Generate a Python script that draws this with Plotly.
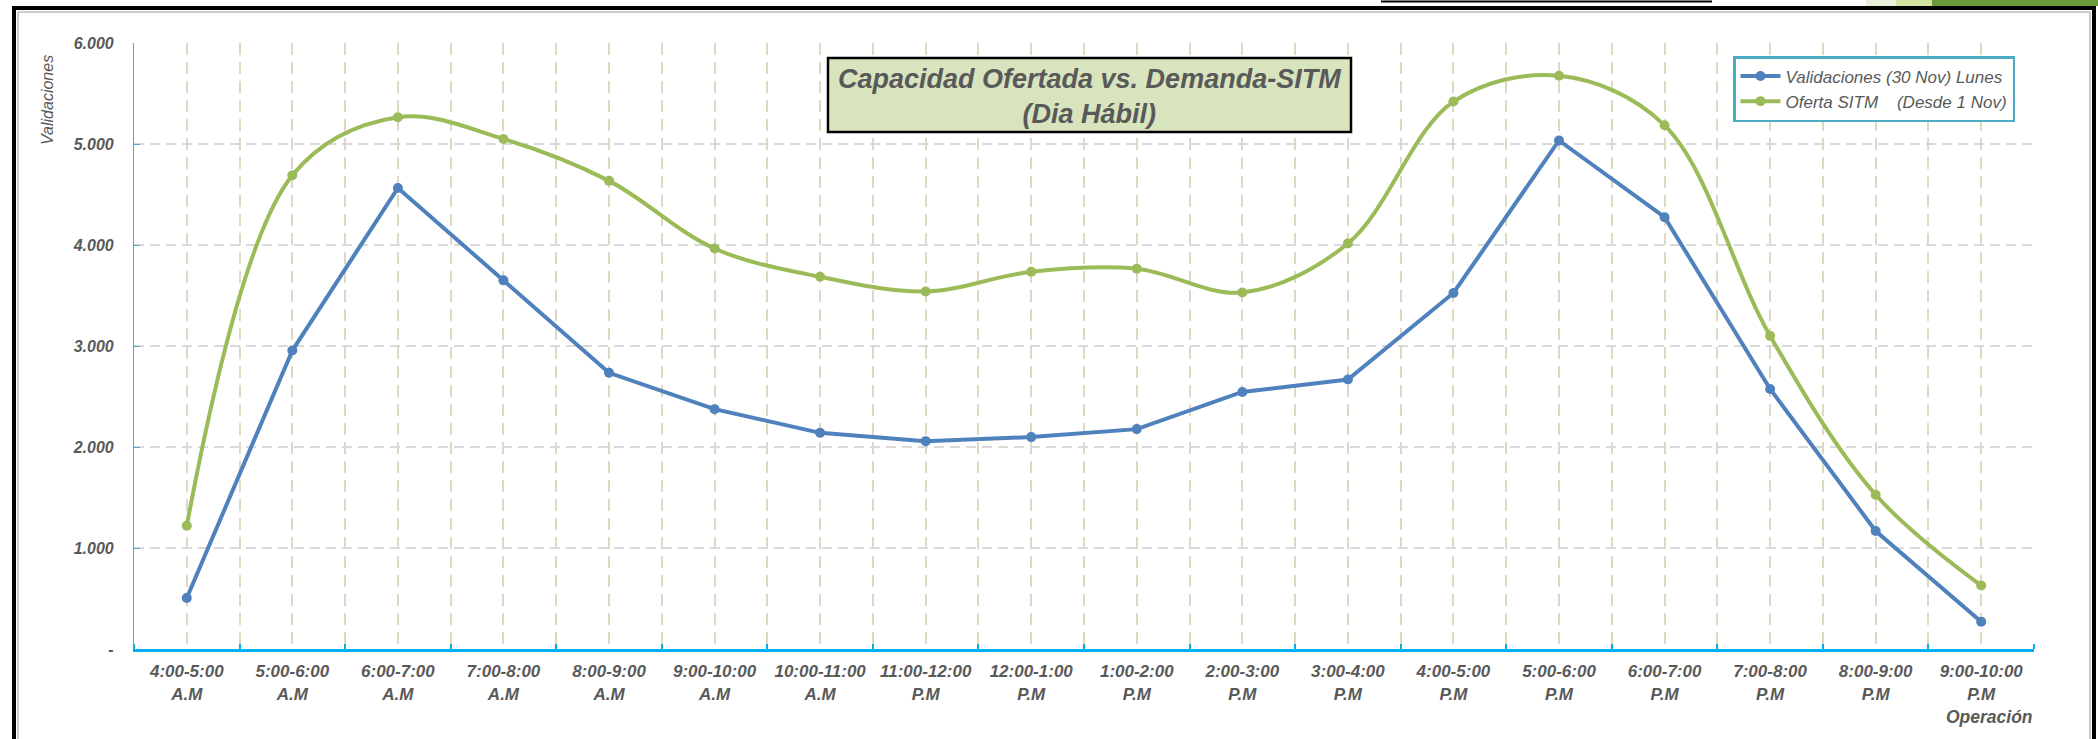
import plotly.graph_objects as go

# ---------------- data ----------------
categories = ["4:00-5:00<br>A.M", "5:00-6:00<br>A.M", "6:00-7:00<br>A.M", "7:00-8:00<br>A.M",
              "8:00-9:00<br>A.M", "9:00-10:00<br>A.M", "10:00-11:00<br>A.M", "11:00-12:00<br>P.M",
              "12:00-1:00<br>P.M", "1:00-2:00<br>P.M", "2:00-3:00<br>P.M", "3:00-4:00<br>P.M",
              "4:00-5:00<br>P.M", "5:00-6:00<br>P.M", "6:00-7:00<br>P.M", "7:00-8:00<br>P.M",
              "8:00-9:00<br>P.M", "9:00-10:00<br>P.M"]
validaciones = [505, 2955, 4565, 3650, 2735, 2375, 2140, 2058, 2098, 2177, 2545, 2668,
                3525, 5035, 4275, 2575, 1168, 270]
oferta = [1221, 4690, 5265, 5050, 4635, 3965, 3685, 3540, 3735, 3765, 3530, 4015,
          5420, 5675, 5185, 3100, 1527, 628]
y_tickvals = [0, 1000, 2000, 3000, 4000, 5000, 6000]
y_ticktext = ["-", "1.000", "2.000", "3.000", "4.000", "5.000", "6.000"]
series_names = ["Validaciones (30 Nov) Lunes", "Oferta SITM\u00a0\u00a0\u00a0 (Desde 1 Nov)"]
title_text = "Capacidad Ofertada vs. Demanda-SITM<br>(Dia Hábil)"

# ---------------- layout geometry ----------------
W, H = 2098, 739
L, R, T, B = 134, 64, 43, 90
PW, PH = W - L - R, H - T - B


def px(x):
    return (x - L) / PW


def py(y):
    return (H - B - y) / PH


FONT = "Liberation Sans, Arial, sans-serif"
GRAY = "#595959"
BLUE = "#4f81bd"
GREEN = "#9bbb59"

xpos = list(range(len(categories)))

fig = go.Figure()
fig.add_trace(go.Scatter(
    x=xpos, y=validaciones, name=series_names[0], mode="lines+markers",
    line=dict(color=BLUE, width=4), marker=dict(color=BLUE, size=10),
    legendgroup="a"))
fig.add_trace(go.Scatter(
    x=xpos, y=oferta, name=series_names[1], mode="lines+markers",
    line=dict(color=GREEN, width=4, shape="spline", smoothing=1.0),
    marker=dict(color=GREEN, size=10), legendgroup="b"))

fig.update_layout(
    width=W, height=H,
    margin=dict(l=L, r=R, t=T, b=B),
    paper_bgcolor="white", plot_bgcolor="white",
    font=dict(family=FONT, color=GRAY),
    showlegend=True,
    legend=dict(
        x=px(2015), y=py(56), xanchor="right", yanchor="top",
        bgcolor="white", bordercolor="#4bacc6", borderwidth=2.5,
        font=dict(family=FONT, size=17, color=GRAY, style="italic"),
        itemwidth=40, tracegroupgap=4, traceorder="normal",
    ),
    xaxis=dict(
        range=[-0.5, len(categories) - 0.5],
        tickmode="array", tickvals=xpos, ticktext=categories,
        tickfont=dict(family=FONT, size=17, color=GRAY, style="italic", weight="bold"),
        ticks="", ticklabelstandoff=5,
        showgrid=True, gridcolor="#ddd9c3", gridwidth=2, griddash="12px,7px",
        showline=True, linecolor="#00b0f0", linewidth=3,
        zeroline=False,
        minor=dict(tickvals=[i - 0.5 for i in range(len(categories) + 1)],
                   showgrid=True, gridcolor="#ddd9c3", gridwidth=2, griddash="12px,7px",
                   ticks="inside", ticklen=5, tickcolor="#00b0f0", tickwidth=2),
    ),
    yaxis=dict(
        range=[0, 6000],
        tickmode="array", tickvals=y_tickvals, ticktext=y_ticktext,
        tickfont=dict(family=FONT, size=16, color=GRAY, style="italic", weight="bold"),
        ticks="inside", ticklen=6, tickcolor="#4bacc6", tickwidth=1,
        ticklabelstandoff=16,
        showgrid=True, gridcolor="#d9d9d9", gridwidth=2, griddash="10px,6px",
        showline=True, linecolor="#4bacc6", linewidth=1.2,
        zeroline=False,
    ),
)

shapes = []
# Title box
shapes.append(dict(type="rect", xref="paper", yref="paper",
                   x0=px(828), x1=px(1351), y0=py(132), y1=py(58),
                   fillcolor="#d7e4bd", line=dict(color="black", width=2.5), layer="above"))
# Outer frame (double line look)
shapes.append(dict(type="rect", xref="paper", yref="paper",
                   x0=px(14), x1=px(2094), y0=py(780), y1=py(8),
                   line=dict(color="black", width=4), layer="above"))
shapes.append(dict(type="rect", xref="paper", yref="paper",
                   x0=px(18), x1=px(2090), y0=py(780), y1=py(12),
                   line=dict(color="#9a9a9a", width=1), layer="above"))
# Top-right slide decorations
shapes.append(dict(type="rect", xref="paper", yref="paper",
                   x0=px(1866), x1=px(1896), y0=py(6), y1=py(0),
                   fillcolor="#eaf1dd", line=dict(width=0), layer="above"))
shapes.append(dict(type="rect", xref="paper", yref="paper",
                   x0=px(1896), x1=px(1932), y0=py(6), y1=py(0),
                   fillcolor="#d3e2a0", line=dict(width=0), layer="above"))
shapes.append(dict(type="rect", xref="paper", yref="paper",
                   x0=px(1932), x1=px(2098), y0=py(6), y1=py(0),
                   fillcolor="#6a9a3a", line=dict(width=0), layer="above"))
shapes.append(dict(type="line", xref="paper", yref="paper",
                   x0=px(1381), x1=px(1712), y0=py(1.5), y1=py(1.5),
                   line=dict(color="black", width=2), layer="above"))
fig.update_layout(shapes=shapes)

annotations = [
    dict(text=title_text, xref="paper", yref="paper", x=px(1089.5), y=py(96),
         xanchor="center", yanchor="middle", showarrow=False, align="center",
         font=dict(family=FONT, size=27, color=GRAY, style="italic", weight="bold")),
    dict(text="Validaciones", xref="paper", yref="paper", x=px(48), y=py(100),
         xanchor="center", yanchor="middle", showarrow=False, textangle=-90,
         font=dict(family=FONT, size=16, color=GRAY, style="italic")),
    dict(text="Operación", xref="paper", yref="paper", x=px(2035), y=py(717),
         xanchor="right", yanchor="middle", showarrow=False,
         font=dict(family=FONT, size=17.5, color=GRAY, style="italic", weight="bold")),
]
fig.update_layout(annotations=annotations)

fig.write_html("out.html", config={"displayModeBar": False},
               post_script="document.body.style.margin='0';document.body.style.overflow='hidden';")
